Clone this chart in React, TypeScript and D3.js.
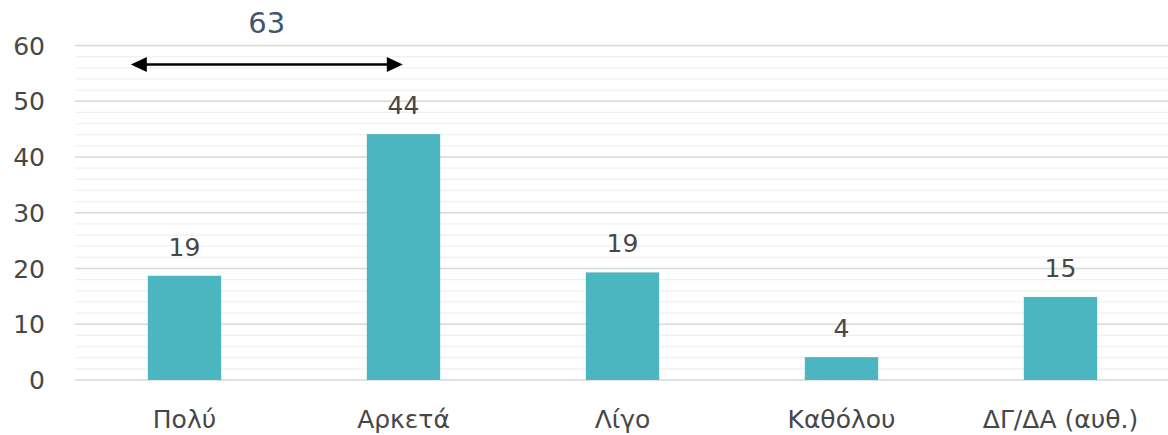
import React from "react";
import * as d3 from "d3";

const categories = ["Πολύ", "Αρκετά", "Λίγο", "Καθόλου", "ΔΓ/ΔΑ (αυθ.)"];
const values = [18.7, 44.1, 19.3, 4.1, 14.9];
const valueLabels = ["19", "44", "19", "4", "15"];
const yTicks = [0, 10, 20, 30, 40, 50, 60];
const minorTicks = d3.range(0, 61, 2);
const bracketFrom = "Πολύ";
const bracketTo = "Αρκετά";
const bracketLabel = "63";

const W = 1168;
const H = 435;
const margin = { left: 75, right: -2, top: 45.5, bottom: 55 };

export default function App() {
  const x = d3
    .scaleBand<string>()
    .domain(categories)
    .range([margin.left, W - margin.right])
    .paddingInner(0.665)
    .paddingOuter(0.3325);
  const y = d3.scaleLinear().domain([0, 60]).range([380, margin.top]);
  const font = "'DejaVu Sans', sans-serif";
  const textColor = "#474747";

  const xa = (x(bracketFrom) ?? 0) - 17;
  const xb = (x(bracketTo) ?? 0) + 36;
  const ay = 64.5;

  return (
    <svg
      width={W}
      height={H}
      style={{ position: "absolute", left: 0, top: 0, background: "#fff" }}
      fontFamily={font}
    >
      {minorTicks
        .filter((t) => t % 10 !== 0)
        .map((t) => (
          <line key={"m" + t} x1={margin.left} x2={W} y1={y(t)} y2={y(t)} stroke="#f0f0f0" strokeWidth={1.3} />
        ))}
      {yTicks.map((t) => (
        <line key={"g" + t} x1={margin.left} x2={W} y1={y(t)} y2={y(t)} stroke="#d9d9d9" strokeWidth={1.5} />
      ))}
      {yTicks.map((t) => (
        <text key={"t" + t} x={45} y={y(t) + 9} textAnchor="end" fontSize={25} fill={textColor}>
          {t}
        </text>
      ))}
      {categories.map((c, i) => (
        <g key={c}>
          <rect x={x(c)} y={y(values[i])} width={x.bandwidth()} height={y(0) - y(values[i])} fill="#4bb6c0" />
          <text
            x={(x(c) ?? 0) + x.bandwidth() / 2}
            y={y(values[i]) - 20}
            textAnchor="middle"
            fontSize={25}
            fill={textColor}
          >
            {valueLabels[i]}
          </text>
          <text
            x={(x(c) ?? 0) + x.bandwidth() / 2}
            y={428}
            textAnchor="middle"
            fontSize={25}
            fill={textColor}
          >
            {c}
          </text>
        </g>
      ))}
      <line x1={xa + 14} x2={xb - 14} y1={ay} y2={ay} stroke="#000" strokeWidth={2.6} />
      <path d={`M${xa},${ay} L${xa + 16},${ay - 7.5} L${xa + 16},${ay + 7.5} Z`} fill="#000" />
      <path d={`M${xb},${ay} L${xb - 16},${ay - 7.5} L${xb - 16},${ay + 7.5} Z`} fill="#000" />
      <text x={(xa + xb) / 2} y={33} textAnchor="middle" fontSize={29} fill="#44546a">
        {bracketLabel}
      </text>
    </svg>
  );
}
